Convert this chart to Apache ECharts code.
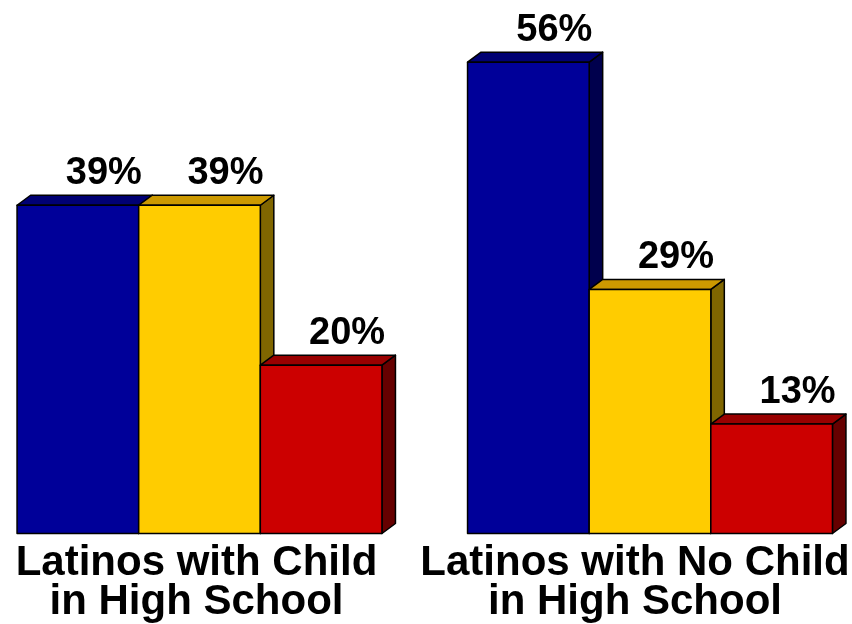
<!DOCTYPE html>
<html>
<head>
<meta charset="utf-8">
<script src="https://cdn.jsdelivr.net/npm/echarts@6/dist/echarts.min.js"></script>
<style>html,body{margin:0;padding:0;background:#fff;}#chart{width:852px;height:624px;}</style>
</head>
<body>
<div id="chart"></div>
<script>
const categories = ['Latinos with Child\nin High School', 'Latinos with No Child\nin High School'];
const blueValues = [39, 56];
const yellowValues = [39, 29];
const redValues = [20, 13];
const valueLabels = [['39%', '56%'], ['39%', '29%'], ['20%', '13%']];

const seriesDefs = [
  { name: 'Blue', data: blueValues, front: '#000099', top: '#000073', side: '#00004d' },
  { name: 'Yellow', data: yellowValues, front: '#ffcc00', top: '#cc9900', side: '#806600' },
  { name: 'Red', data: redValues, front: '#cc0000', top: '#990000', side: '#660000' }
];

const DX = 13.5, DY = 10, BAR_FRAC = 0.27;

function makeRender(k, def) {
  return function (params, api) {
    const idx = api.value(0), val = api.value(1);
    const base = api.coord([idx, 0]);
    const topPt = api.coord([idx, val]);
    const band = api.size([1, 0])[0];
    const w = band * BAR_FRAC;
    const x0 = base[0] - 1.5 * w + k * w;
    const x1 = x0 + w;
    const yb = base[1], yt = topPt[1];
    const stroke = { stroke: '#000', lineWidth: 1.5, lineJoin: 'round' };
    return {
      type: 'group',
      children: [
        { type: 'polygon', shape: { points: [[x1, yt], [x1 + DX, yt - DY], [x1 + DX, yb - DY], [x1, yb]] },
          style: Object.assign({ fill: def.side }, stroke) },
        { type: 'polygon', shape: { points: [[x0, yt], [x0 + DX, yt - DY], [x1 + DX, yt - DY], [x1, yt]] },
          style: Object.assign({ fill: def.top }, stroke) },
        { type: 'rect', shape: { x: x0, y: yt, width: w, height: yb - yt },
          style: Object.assign({ fill: def.front }, stroke) },
        { type: 'text', style: { text: valueLabels[k][idx], x: (x0 + x1) / 2 + 26, y: yt - DY - 3,
            textAlign: 'center', textVerticalAlign: 'bottom',
            font: 'bold 38px "Liberation Sans", Arial, sans-serif', fill: '#000' } }
      ]
    };
  };
}

const chart = echarts.init(document.getElementById('chart'), null, { renderer: 'canvas' });
chart.setOption({
  animation: false,
  backgroundColor: '#ffffff',
  grid: { left: -25.75, right: -23.25, top: 28.5, bottom: 90.5, containLabel: false, outerBoundsMode: 'none' },
  xAxis: {
    type: 'category',
    data: categories,
    axisLine: { show: false },
    axisTick: { show: false },
    splitLine: { show: false },
    axisLabel: {
      interval: 0,
      margin: 10,
      hideOverlap: false,
      formatter: function (value, i) {
        const key = i === 0 ? 'a' : 'b';
        return value.split('\n').map(function (s) { return '{' + key + '|' + s + '}'; }).join('\n');
      },
      rich: {
        a: { fontFamily: '"Liberation Sans", Arial, sans-serif', fontWeight: 'bold', fontSize: 42, lineHeight: 39, color: '#000', padding: [0, 6, 0, 0] },
        b: { fontFamily: '"Liberation Sans", Arial, sans-serif', fontWeight: 'bold', fontSize: 42, lineHeight: 39, color: '#000', padding: [0, 30, 0, 0] }
      }
    }
  },
  yAxis: { type: 'value', min: 0, max: 60, show: false, splitLine: { show: false } },
  series: seriesDefs.map(function (def, k) {
    return {
      type: 'custom',
      name: def.name,
      renderItem: makeRender(k, def),
      data: def.data.map(function (v, i) { return [i, v]; }),
      encode: { x: 0, y: 1 },
      clip: false
    };
  })
});
</script>
</body>
</html>
